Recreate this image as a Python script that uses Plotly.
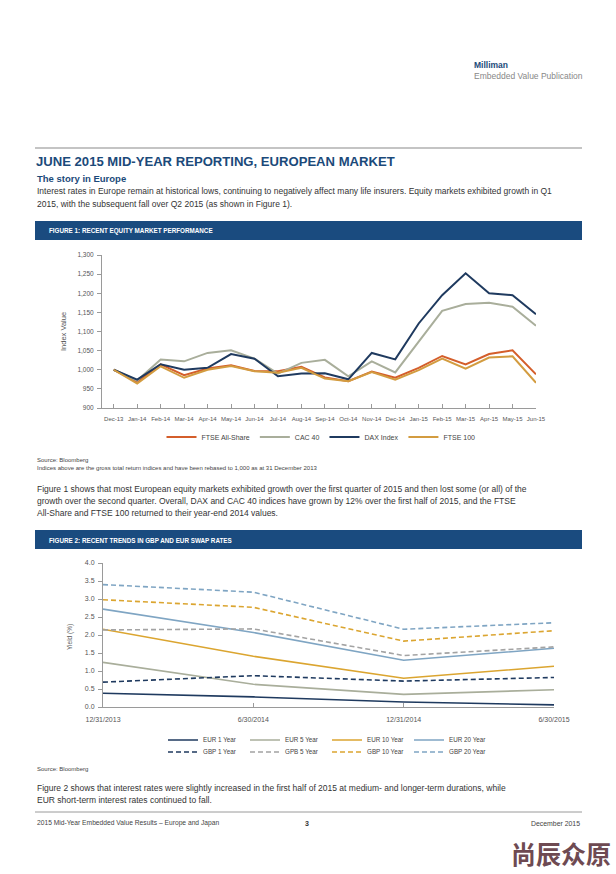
import plotly.graph_objects as go

W, H = 616, 874

# ---------------- Data: Figure 1 ----------------
months = ["Dec-13", "Jan-14", "Feb-14", "Mar-14", "Apr-14", "May-14", "Jun-14", "Jul-14",
          "Aug-14", "Sep-14", "Oct-14", "Nov-14", "Dec-14", "Jan-15", "Feb-15", "Mar-15",
          "Apr-15", "May-15", "Jun-15"]
ftse_all_share = [1000, 968, 1014, 986, 1003, 1012, 997, 996, 1008, 980, 970, 995, 979, 1005,
                  1036, 1014, 1041, 1051, 988]
cac40 = [1000, 972, 1027, 1022, 1044, 1051, 1029, 990, 1018, 1026, 983, 1022, 993, 1073,
         1154, 1172, 1175, 1165, 1115]
dax = [1000, 974, 1014, 1000, 1005, 1041, 1029, 983, 990, 991, 975, 1044, 1027, 1121,
       1195, 1252, 1200, 1195, 1145]
ftse100 = [1000, 964, 1009, 979, 1000, 1010, 996, 992, 1005, 977, 970, 994, 974, 999,
           1029, 1003, 1032, 1035, 966]

# ---------------- Data: Figure 2 ----------------
dates = ["12/31/2013", "6/30/2014", "12/31/2014", "6/30/2015"]
eur_1y = [0.38, 0.28, 0.14, 0.06]
eur_5y = [1.24, 0.63, 0.35, 0.48]
eur_10y = [2.16, 1.41, 0.80, 1.13]
eur_20y = [2.72, 2.07, 1.30, 1.63]
gbp_1y = [0.69, 0.87, 0.72, 0.82]
gbp_5y = [2.14, 2.17, 1.43, 1.67]
gbp_10y = [2.98, 2.77, 1.83, 2.12]
gbp_20y = [3.40, 3.19, 2.16, 2.34]

NAVY = "#1F3A5F"
ORANGE = "#D45E2B"
SAGE = "#A9AE9B"
GOLD1 = "#D39C40"
GOLD2 = "#DBA530"
LBLUE = "#7FA5C3"
GRAY = "#A3A3A3"
BANNER = "#1A4B7F"
FONT = "Liberation Sans, Arial, sans-serif"


def px(x):
    return x / W


def py(y):
    return 1 - y / H


fig = go.Figure()

# Figure 1 traces
for name, vals, col in [("FTSE All-Share", ftse_all_share, ORANGE), ("CAC 40", cac40, SAGE),
                        ("DAX Index", dax, NAVY), ("FTSE 100", ftse100, GOLD1)]:
    fig.add_trace(go.Scatter(x=months, y=vals, mode="lines", name=name,
                             line=dict(color=col, width=2), xaxis="x", yaxis="y",
                             legend="legend"))

# Figure 2 traces
for name, vals, col, dash, lg in [
    ("EUR 1 Year", eur_1y, NAVY, "solid", "legend2"),
    ("EUR 5 Year", eur_5y, SAGE, "solid", "legend2"),
    ("EUR 10 Year", eur_10y, GOLD2, "solid", "legend2"),
    ("EUR 20 Year", eur_20y, LBLUE, "solid", "legend2"),
    ("GBP 1 Year", gbp_1y, NAVY, "5px,3px", "legend3"),
    ("GPB 5 Year", gbp_5y, GRAY, "5px,3px", "legend3"),
    ("GBP 10 Year", gbp_10y, GOLD2, "5px,3px", "legend3"),
    ("GBP 20 Year", gbp_20y, LBLUE, "5px,3px", "legend3"),
]:
    fig.add_trace(go.Scatter(x=dates, y=vals, mode="lines", name=name,
                             line=dict(color=col, width=1.6, dash=dash), xaxis="x2", yaxis="y2",
                             legend=lg))

axis_common = dict(showgrid=False, zeroline=False, showline=True, linecolor="#9a9a9a",
                   linewidth=1, tickcolor="#9a9a9a", ticklen=4, fixedrange=True,
                   automargin=False)

fig.update_layout(
    width=W, height=H, margin=dict(l=0, r=0, t=0, b=0, pad=0, autoexpand=False),
    paper_bgcolor="white", plot_bgcolor="white",
    font=dict(family=FONT, color="#444"),
    xaxis=dict(domain=[px(102), px(536)], anchor="y", type="category", range=[-0.5, 18],
               ticks="inside", tickfont=dict(size=6, color="#555"), tickangle=0,
               ticklabelstandoff=5, **axis_common),
    yaxis=dict(domain=[py(408), py(255)], anchor="x", range=[900, 1300], dtick=50,
               tickformat=",d", ticks="outside", tickfont=dict(size=6.5, color="#555"),
               ticklabelstandoff=2, **axis_common),
    xaxis2=dict(domain=[px(103), px(554)], anchor="y2", type="category", range=[0, 3],
                ticks="inside", tickfont=dict(size=7, color="#555"), tickangle=0,
                ticklabelstandoff=6, **axis_common),
    yaxis2=dict(domain=[py(707), py(563)], anchor="x2", range=[0, 4], dtick=0.5,
                tickformat=".1f", ticks="outside", tickfont=dict(size=7, color="#555"),
                ticklabelstandoff=2, **axis_common),
    legend=dict(orientation="h", x=px(321), xanchor="center", y=py(437), yanchor="middle",
                font=dict(size=7, color="#444"), bgcolor="rgba(0,0,0,0)",
                itemwidth=30, tracegroupgap=0),
    legend2=dict(orientation="h", x=px(327), xanchor="center", y=py(740), yanchor="middle",
                 font=dict(size=6.3, color="#444"), bgcolor="rgba(0,0,0,0)",
                 entrywidth=37, itemwidth=30),
    legend3=dict(orientation="h", x=px(327), xanchor="center", y=py(752), yanchor="middle",
                 font=dict(size=6.3, color="#444"), bgcolor="rgba(0,0,0,0)",
                 entrywidth=37, itemwidth=30),
)

shapes = [
    dict(type="line", xref="paper", yref="paper", x0=px(35), x1=px(582), y0=py(148), y1=py(148),
         line=dict(color="#8a8a8a", width=1.2)),
    dict(type="rect", xref="paper", yref="paper", x0=px(35), x1=px(582), y0=py(240), y1=py(221),
         fillcolor=BANNER, line=dict(width=0)),
    dict(type="rect", xref="paper", yref="paper", x0=px(35), x1=px(582), y0=py(549), y1=py(530),
         fillcolor=BANNER, line=dict(width=0)),
    dict(type="line", xref="paper", yref="paper", x0=px(35), x1=px(582), y0=py(812), y1=py(812),
         line=dict(color="#9a9a9a", width=1)),
]
fig.update_layout(shapes=shapes)

ann = []


def text(x, y, t, size, color="#333", bold=False, anchor="left", family=FONT, angle=0):
    if bold:
        t = "<b>" + t + "</b>"
    ann.append(dict(xref="paper", yref="paper", x=px(x), y=py(y), text=t, showarrow=False,
                    xanchor=anchor, yanchor="middle", textangle=angle,
                    font=dict(size=size, color=color, family=family)))


text(472, 65, "Milliman", 8.5, "#1B4A7A", bold=True)
text(472, 76, "Embedded Value Publication", 8.5, "#888")
text(34, 161, "JUNE 2015 MID-YEAR REPORTING, EUROPEAN MARKET", 13.1, "#1B4A7A", bold=True)
text(35, 179, "The story in Europe", 9.5, "#1B4A7A", bold=True)
text(35, 191.5, "Interest rates in Europe remain at historical lows, continuing to negatively affect many life insurers. Equity markets exhibited growth in Q1", 8.5)
text(35, 203.5, "2015, with the subsequent fall over Q2 2015 (as shown in Figure 1).", 8.5)
text(47, 231, "FIGURE 1: RECENT EQUITY MARKET PERFORMANCE", 6.3, "white", bold=True)
text(63, 332, "Index Value", 7.5, "#555", angle=-90, anchor="center")
text(35, 460, "Source: Bloomberg", 6, "#444")
text(35, 468, "Indices above are the gross total return indices and have been rebased to 1,000 as at 31 December 2013", 6, "#444")
text(35, 489, "Figure 1 shows that most European equity markets exhibited growth over the first quarter of 2015 and then lost some (or all) of the", 8.5)
text(35, 501, "growth over the second quarter. Overall, DAX and CAC 40 indices have grown by 12% over the first half of 2015, and the FTSE", 8.5)
text(35, 513, "All-Share and FTSE 100 returned to their year-end 2014 values.", 8.5)
text(47, 540, "FIGURE 2: RECENT TRENDS IN GBP AND EUR SWAP RATES", 6.3, "white", bold=True)
text(70, 637, "Yield (%)", 6.5, "#555", angle=-90, anchor="center")
text(35, 769, "Source: Bloomberg", 6, "#444")
text(35, 788, "Figure 2 shows that interest rates were slightly increased in the first half of 2015 at medium- and longer-term durations, while", 8.5)
text(35, 800, "EUR short-term interest rates continued to fall.", 8.5)
text(35, 823, "2015 Mid-Year Embedded Value Results – Europe and Japan", 6.7, "#444")
text(307, 823, "3", 7, "#333", bold=True, anchor="center")
text(582, 823, "December 2015", 6.9, "#444", anchor="right")
text(509, 853, "尚辰众原", 25, "#6E4A52", bold=True, family="Noto Sans CJK SC")

fig.update_layout(annotations=ann)

fig.write_html("out.html", config={"displayModeBar": False},
               post_script="document.body.style.margin='0';document.body.style.overflow='hidden';")
